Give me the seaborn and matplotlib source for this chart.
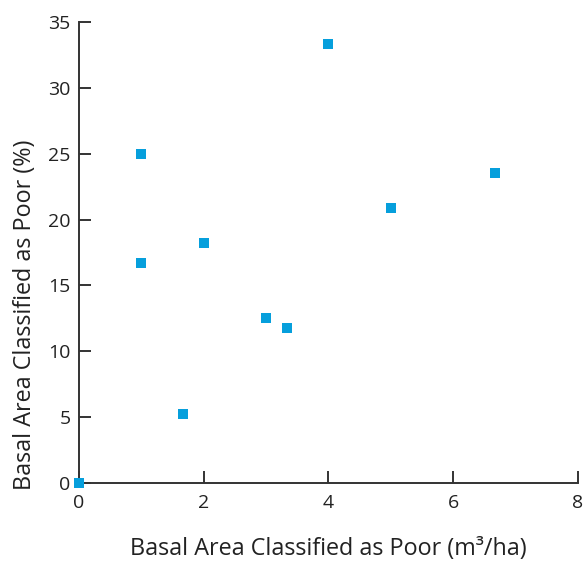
import seaborn as sns
import matplotlib.pyplot as plt
import pandas as pd

# basal area values
basal_area = [0.0, 1.0, 1.0, 1.67, 2.0, 3.0, 3.33, 4.0, 5.0, 6.67]
percent_poor = [0.0, 25.0, 16.7, 5.26, 18.2, 12.5, 11.8, 33.3, 20.9, 23.5]
x_ticks = [0, 2, 4, 6, 8]
y_ticks = [0, 5, 10, 15, 20, 25, 30, 35]

df = pd.DataFrame({"x": basal_area, "y": percent_poor})

sns.set_style("ticks")
plt.rcParams["font.family"] = ["Open Sans", "DejaVu Sans"]

fig = plt.figure(figsize=(5.88, 5.63), dpi=100)
ax = fig.add_axes([0.134, 0.142, 0.849, 0.819])

sns.scatterplot(data=df, x="x", y="y", marker="s", s=55, color="#069fdc",
                linewidth=0, ax=ax, clip_on=False, zorder=3)

ax.set_xlim(0, 8)
ax.set_ylim(0, 35)
ax.set_xticks(x_ticks)
ax.set_yticks(y_ticks)
sns.despine(ax=ax)
for side in ["left", "bottom"]:
    ax.spines[side].set_linewidth(1.4)
    ax.spines[side].set_color("#333333")
ax.tick_params(direction="in", length=8.5, width=1.4, color="#333333",
               labelsize=14, labelcolor="#222222", pad=6)
ax.tick_params(axis="x", pad=8)

ax.set_xlabel("Basal Area Classified as Poor (m³/ha)", fontsize=16.8,
              color="#222222", labelpad=18)
ax.set_ylabel("Basal Area Classified as Poor (%)", fontsize=16.8,
              color="#222222", labelpad=8)
# the y label sits a bit below the middle of the axis in the original
ax.yaxis.label.set_y(0.365)

fig.savefig("out.png", dpi=100)
